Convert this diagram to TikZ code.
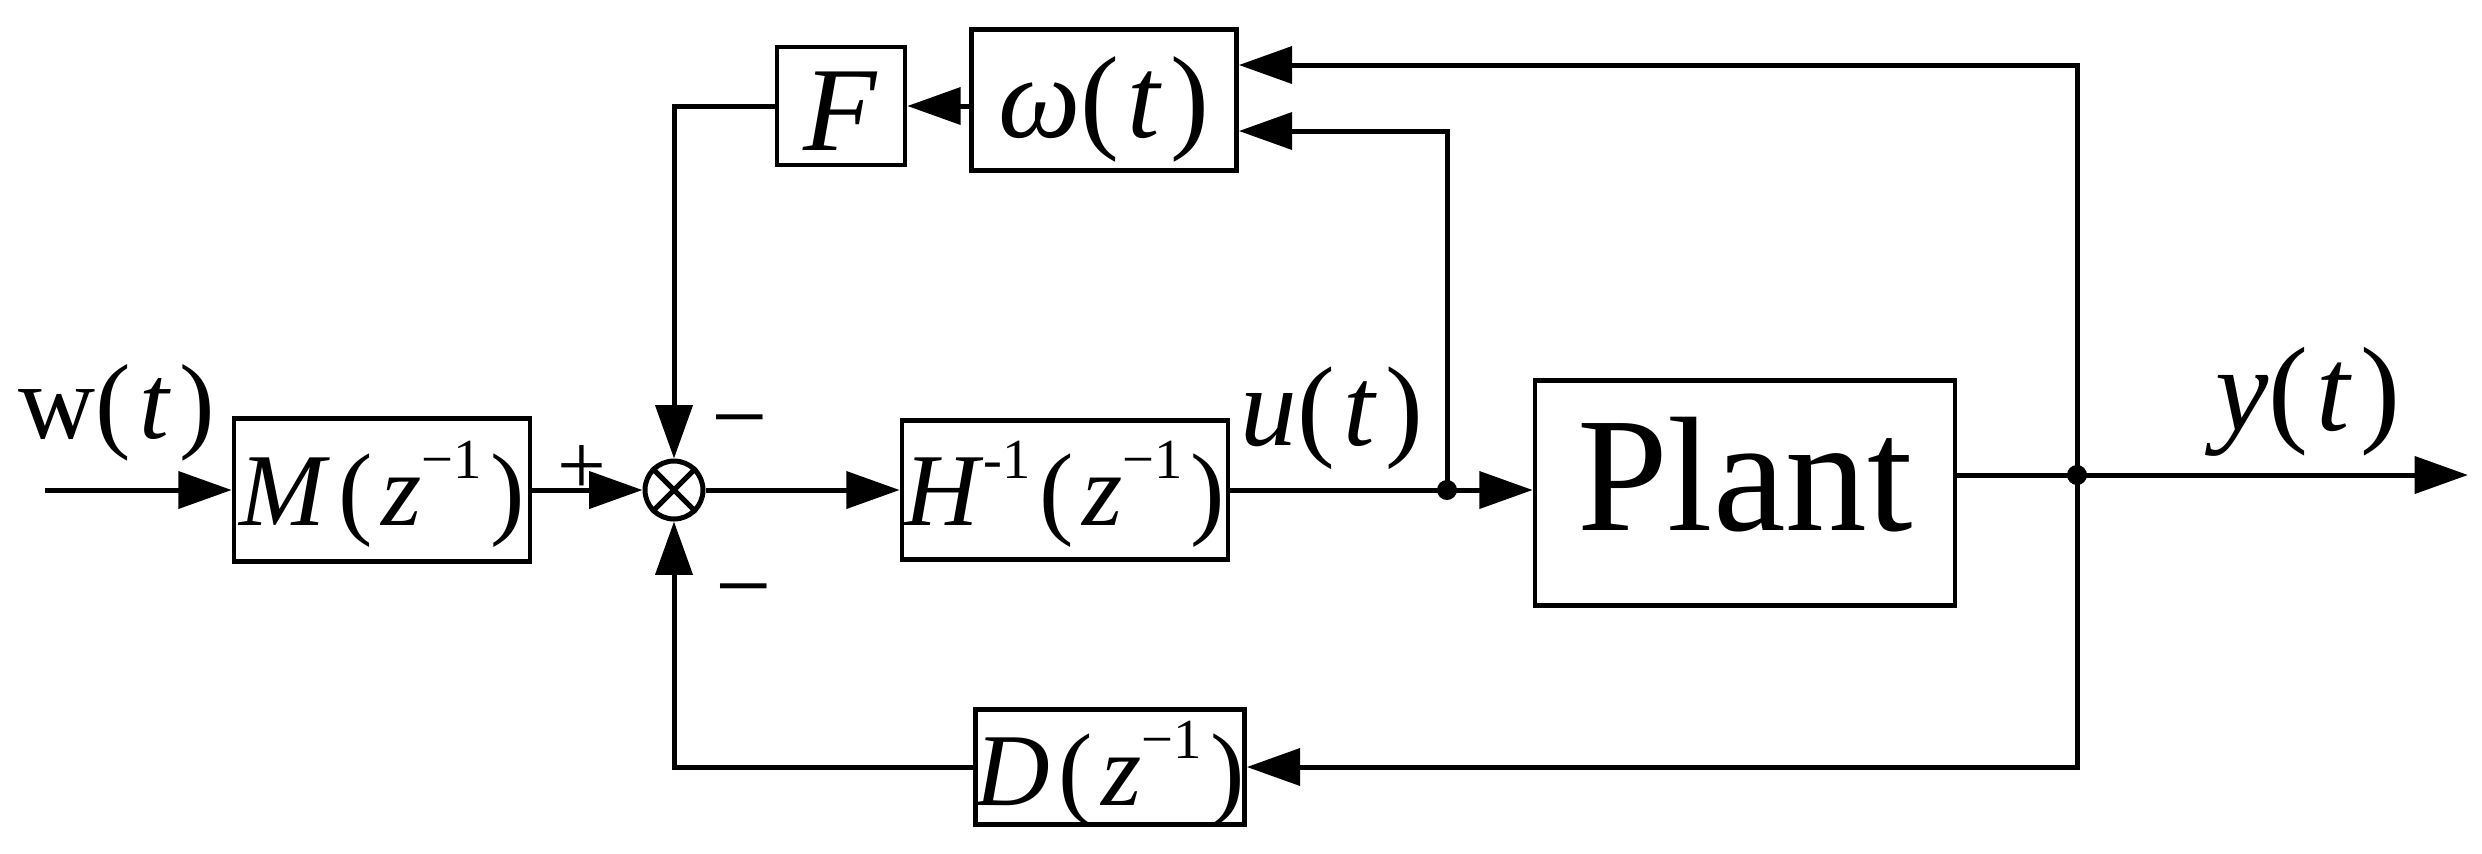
\documentclass[tikz,border=0pt]{standalone}
\usepackage{fontspec}
\setmainfont{Liberation Serif}
\usetikzlibrary{arrows.meta}
\newcommand\supx[1]{\raisebox{0.45em}{\fontsize{17}{17}\selectfont #1}}
\newcommand\lowr[2]{\raisebox{-#1}[0pt][0pt]{#2}}
\newcommand\gp{\hspace{2.5pt}}
\begin{document}
\begin{tikzpicture}[x=0.3pt,y=-0.3pt,
  blk/.style={draw,line width=1.4pt,inner sep=0pt,rectangle},
  arr/.style={line width=1.5pt,-{Triangle[length=16pt,width=11pt]}},
  ln/.style={line width=1.5pt},
  jdot/.style={circle,fill,inner sep=0pt,minimum size=6pt},
  lbl/.style={inner sep=0pt,anchor=base}]
\useasboundingbox (0,0) rectangle (2482,853);
% blocks
\node[blk,minimum width=88.8pt,minimum height=42.9pt,font=\fontsize{31}{31}\selectfont] (M) at (382,490)
  {\lowr{10.5pt}{\textit{M}\gp(\gp\textit{z}\supx{−1}\gp)}};
\node[draw,circle,line width=1.5pt,minimum size=17.4pt,inner sep=0pt] (S) at (674,490) {};
\draw[line width=1.5pt] (S.north west) -- (S.south east) (S.north east) -- (S.south west);
\node[blk,minimum width=97.8pt,minimum height=41.7pt,font=\fontsize{31}{31}\selectfont] (H) at (1065,490)
  {\lowr{10.5pt}{\textit{H}\supx{-1}\gp(\gp\textit{z}\supx{−1}\gp)}};
\node[blk,minimum width=126pt,minimum height=67.5pt,font=\fontsize{49}{49}\selectfont] (P) at (1745,493)
  {\lowr{11.1pt}{Plant}};
\node[blk,minimum width=38.4pt,minimum height=35.4pt,font=\fontsize{36}{36}\selectfont] (F) at (841,106)
  {\lowr{13.2pt}{\textit{F}}};
\node[blk,minimum width=79.5pt,minimum height=42.3pt,font=\fontsize{35}{35}\selectfont] (W) at (1104,100)
  {\lowr{11.1pt}{\textit{ω}(\gp\textit{t}\gp)}};
\node[blk,minimum width=79.8pt,minimum height=34.5pt,font=\fontsize{31}{31}\selectfont] (D) at (1110,767)
  {\lowr{11.4pt}{\textit{D}\gp(\gp\textit{z}\supx{−1}\gp)}};
% coordinates
\coordinate (in) at (45,490);
\coordinate (j1) at (1447,490);
\coordinate (j2) at (2077,475);
\coordinate (out) at (2468,475);
\coordinate (ya) at (0,65);
\coordinate (yb) at (0,131);
% connectors
\draw[arr] (in) -- (M.west);
\draw[arr] (M.east) -- (S.west);
\draw[arr] (S.east) -- (H.west);
\draw[arr] (H.east) -- (P.west |- H.east);
\draw[ln] (P.east |- j2) -- (j2);
\draw[arr] (j2) -- (out);
\draw[arr] (j2) |- (W.east |- ya);
\draw[arr] (j1) |- (W.east |- yb);
\draw[arr] (j2) |- (D.east);
\draw[arr] (W.west |- F.east) -- (F.east);
\draw[arr] (F.west) -| (S.north);
\draw[arr] (D.west) -| (S.south);
\node[jdot] (d1) at (j1) {};
\node[jdot] (d2) at (j2) {};
% labels
\node[lbl,font=\fontsize{32}{32}\selectfont] (wl) at (117,438) {w(\gp\textit{t}\gp)};
\node[lbl,font=\fontsize{34}{34}\selectfont] (ul) at (1332,445) {\textit{u}(\gp\textit{t}\gp)};
\node[lbl,font=\fontsize{36}{36}\selectfont] (yl) at (2308,430) {\textit{y}(\gp\textit{t}\gp)};
\node[inner sep=0pt,font=\fontsize{26}{26}\selectfont] (plus) at (582,470) {+};
\node[inner sep=0pt,font=\fontsize{30}{30}\selectfont] (m1) at (740,433) {−};
\node[inner sep=0pt,font=\fontsize{30}{30}\selectfont] (m2) at (744,602) {−};
\end{tikzpicture}
\end{document}
